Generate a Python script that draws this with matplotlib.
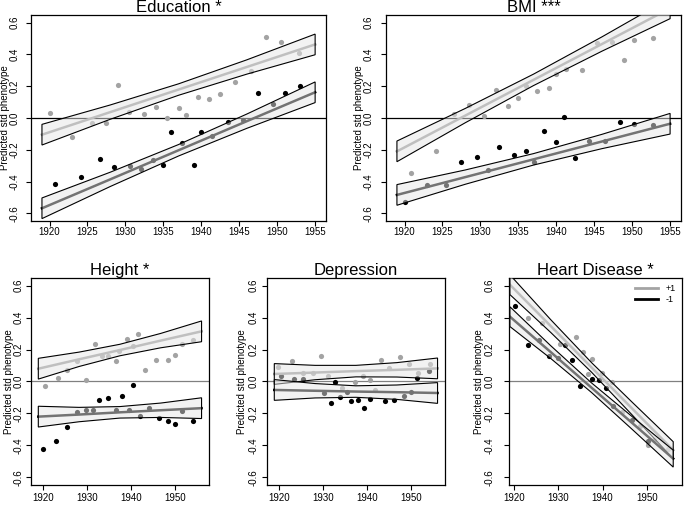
import numpy as np
import matplotlib
matplotlib.use('Agg')
import matplotlib.pyplot as plt
from matplotlib.lines import Line2D

plt.rcParams['font.family'] = ['Liberation Sans', 'DejaVu Sans']
plt.rcParams['axes.unicode_minus'] = False

# years where the fitted lines / bands were read
band_x_top = [1919, 1928, 1937, 1946, 1955]
band_x_bot = [1919, 1928.25, 1937.5, 1946.75, 1956]
half_w = [0.065, 0.045, 0.036, 0.045, 0.065]
half_w_hd = [0.062, 0.04, 0.03, 0.04, 0.053]

# Education
edu_pos_x = [1920.0, 1922.9, 1925.6, 1927.5, 1929.0, 1930.5, 1932.5, 1934.0, 1935.5, 1937.0,
             1938.0, 1939.5, 1941.0, 1942.5, 1944.5, 1946.5, 1948.5, 1950.5, 1952.9]
edu_pos_y = [0.03, -0.12, -0.03, -0.03, 0.21, 0.04, 0.025, 0.07, 0.0, 0.065,
             0.02, 0.13, 0.12, 0.15, 0.225, 0.295, 0.51, 0.48, 0.41]
edu_neg_x = [1920.7, 1924.2, 1926.6, 1928.5, 1930.6, 1932.0, 1933.6, 1935.0, 1936.0, 1937.5,
             1939.0, 1940.0, 1941.4, 1943.5, 1945.5, 1947.5, 1949.5, 1951.0, 1953.0]
edu_neg_y = [-0.415, -0.37, -0.26, -0.31, -0.30, -0.32, -0.265, -0.295, -0.09, -0.16,
             -0.295, -0.09, -0.112, -0.025, -0.015, 0.155, 0.088, 0.16, 0.2]
edu_fit_pos = [-0.105, 0.037, 0.179, 0.321, 0.463]
edu_fit_neg = [-0.568, -0.386, -0.203, -0.020, 0.162]

# BMI
bmi_pos_x = [1920.8, 1924.1, 1926.5, 1928.5, 1930.5, 1932.0, 1933.6, 1935.0, 1936.0, 1937.5,
             1939.0, 1940.0, 1941.3, 1943.4, 1945.4, 1947.4, 1948.9, 1950.3, 1952.8]
bmi_pos_y = [-0.347, -0.206, 0.025, 0.082, 0.015, 0.179, 0.078, 0.126, 0.2, 0.17,
             0.19, 0.277, 0.31, 0.3, 0.47, 0.48, 0.366, 0.49, 0.505]
bmi_neg_x = [1920.0, 1923.0, 1925.5, 1927.5, 1929.6, 1931.0, 1932.5, 1934.4, 1936.0, 1937.0,
             1938.4, 1940.0, 1941.0, 1942.5, 1944.3, 1946.4, 1948.4, 1950.2, 1952.8]
bmi_neg_y = [-0.53, -0.42, -0.42, -0.278, -0.243, -0.33, -0.18, -0.232, -0.206, -0.278,
             -0.08, -0.154, 0.006, -0.25, -0.147, -0.147, -0.025, -0.036, -0.042]
bmi_fit_pos = [-0.21, 0.015, 0.24, 0.465, 0.69]
bmi_fit_neg = [-0.484, -0.372, -0.26, -0.148, -0.036]

# Height
hgt_pos_x = [1920.5, 1923.5, 1925.6, 1927.7, 1929.8, 1931.9, 1933.4, 1934.9, 1936.5, 1937.3,
             1939.0, 1940.5, 1941.6, 1943.1, 1945.7, 1948.4, 1949.9, 1951.5, 1954.0]
hgt_pos_y = [-0.027, 0.02, 0.07, 0.127, 0.008, 0.233, 0.16, 0.16, 0.127, 0.19,
             0.263, 0.22, 0.296, 0.07, 0.137, 0.137, 0.167, 0.235, 0.26]
hgt_neg_x = [1920.0, 1922.9, 1925.6, 1927.7, 1929.7, 1931.3, 1932.8, 1934.9, 1936.5, 1938.0,
             1939.5, 1940.5, 1942.1, 1944.1, 1946.3, 1948.4, 1949.9, 1951.5, 1954.0]
hgt_neg_y = [-0.424, -0.37, -0.286, -0.19, -0.176, -0.176, -0.114, -0.102, -0.176, -0.092,
             -0.176, -0.022, -0.216, -0.163, -0.227, -0.25, -0.265, -0.186, -0.25]
hgt_fit_pos = [0.08, 0.139, 0.197, 0.256, 0.314]
hgt_fit_neg = [-0.22, -0.207, -0.193, -0.18, -0.167]

# Depression
dep_pos_x = [1919.9, 1922.9, 1925.4, 1927.7, 1929.6, 1931.1, 1934.4, 1937.4, 1939.0, 1940.6,
             1941.9, 1943.2, 1945.1, 1947.4, 1949.5, 1951.5, 1954.2]
dep_pos_y = [0.092, 0.129, 0.055, 0.051, 0.158, 0.035, -0.04, -0.004, 0.035, 0.01,
             -0.051, 0.133, 0.082, 0.154, 0.109, 0.051, 0.109]
dep_neg_x = [1920.5, 1923.4, 1925.4, 1930.2, 1931.9, 1932.8, 1933.9, 1935.4, 1936.4, 1937.9,
             1939.4, 1940.6, 1944.1, 1946.2, 1948.3, 1950.0, 1951.3, 1954.0]
dep_neg_y = [0.035, 0.016, 0.016, -0.072, -0.133, -0.006, -0.098, -0.066, -0.123, -0.113,
             -0.164, -0.107, -0.123, -0.113, -0.092, -0.066, 0.02, 0.068]
dep_fit_pos = [0.047, 0.056, 0.065, 0.073, 0.082]
dep_fit_neg = [-0.053, -0.058, -0.063, -0.067, -0.072]

# Heart Disease
hd_pos_x = [1923.2, 1926.3, 1930.4, 1933.9, 1935.6, 1936.6, 1937.7, 1939.8, 1942.2, 1944.3,
            1948.5, 1950.2, 1951.7, 1954.9]
hd_pos_y = [0.40, 0.369, 0.235, 0.276, 0.183, 0.045, 0.138, 0.056, -0.006, -0.188,
            -0.278, -0.398, -0.367, -0.42]
hd_neg_x = [1920.2, 1923.2, 1925.6, 1927.9, 1930.0, 1931.5, 1933.0, 1934.9, 1937.5, 1939.2,
            1940.8, 1942.4, 1946.6, 1950.2]
hd_neg_y = [0.474, 0.226, 0.257, 0.158, 0.148, 0.226, 0.132, -0.027, 0.015, 0.01,
            -0.043, -0.151, -0.244, -0.371]
hd_fit_pos = [0.606, 0.347, 0.088, -0.171, -0.43]
hd_fit_neg = [0.406, 0.184, -0.039, -0.261, -0.483]

grey_pt = '#a3a3a3'
band_fc = (0.9, 0.9, 0.9, 0.5)

fig = plt.figure(figsize=(6.85, 5.07), dpi=100)

top_ticks = [1920, 1925, 1930, 1935, 1940, 1945, 1950, 1955]
bot_ticks = [1920, 1930, 1940, 1950]

# title, rect, xlim, band x, half widths, data..., zero-line colour, x ticks,
# y tick pad (pt), y label centre offset (px), x tick pad (pt)
panels = [
    ('Education *', [0.0453, 0.5641, 0.4307, 0.4063], (1917.56, 1956.44), band_x_top, half_w,
     edu_pos_x, edu_pos_y, edu_neg_x, edu_neg_y, edu_fit_pos, edu_fit_neg, 'black',
     top_ticks, 4.5, 26, 1),
    ('BMI ***', [0.5635, 0.5641, 0.4307, 0.4063], (1917.56, 1956.44), band_x_top, half_w,
     bmi_pos_x, bmi_pos_y, bmi_neg_x, bmi_neg_y, bmi_fit_pos, bmi_fit_neg, 'black',
     top_ticks, 5, 26.5, 1),
    ('Height *', [0.0453, 0.0434, 0.2599, 0.4083], (1917.35, 1957.7), band_x_bot, half_w,
     hgt_pos_x, hgt_pos_y, hgt_neg_x, hgt_neg_y, hgt_fit_pos, hgt_fit_neg, '#808080',
     bot_ticks, 1.8, 22, 2.5),
    ('Depression', [0.3898, 0.0434, 0.2599, 0.4083], (1917.35, 1957.7), band_x_bot, half_w,
     dep_pos_x, dep_pos_y, dep_neg_x, dep_neg_y, dep_fit_pos, dep_fit_neg, '#808080',
     bot_ticks, 2.5, 25, 2.5),
    ('Heart Disease *', [0.7431, 0.0434, 0.2526, 0.4083], (1918.8, 1958.0), band_x_bot, half_w_hd,
     hd_pos_x, hd_pos_y, hd_neg_x, hd_neg_y, hd_fit_pos, hd_fit_neg, '#808080',
     bot_ticks, 6.5, 30.5, 2.5),
]

for (title, rect, xlim, bx, hw, px, py, nx, ny, fp, fn, zcol, xt, ypad, lab_off, xpad) in panels:
    ax = fig.add_axes(rect)
    ax.axhline(0, color=zcol, lw=0.9, zorder=1)
    ax.scatter(px, py, s=14, color=grey_pt, zorder=2, linewidths=0)
    ax.scatter(nx, ny, s=14, color='black', zorder=2, linewidths=0)
    ax.plot(bx, fp, color='#999999', lw=1.8, zorder=2.5)
    ax.plot(bx, fn, color='black', lw=1.8, zorder=2.5)
    bx_arr = np.array(bx)
    for fit in (fp, fn):
        lo = np.array(fit) - np.array(hw)
        hi = np.array(fit) + np.array(hw)
        xs = np.concatenate([bx_arr, bx_arr[::-1]])
        ys = np.concatenate([hi, lo[::-1]])
        ax.fill(xs, ys, facecolor=band_fc, edgecolor='black', lw=0.8, zorder=3)
    ax.set_xlim(*xlim)
    ax.set_ylim(-0.648, 0.648)
    ax.set_xticks(xt)
    ax.set_yticks([-0.6, -0.4, -0.2, 0.0, 0.2, 0.4, 0.6])
    ax.set_yticklabels(['-0.6', '-0.4', '-0.2', '0.0', '0.2', '0.4', '0.6'])
    ax.tick_params(axis='both', direction='out', length=3.6, width=0.8, labelsize=7)
    ax.tick_params(axis='x', pad=xpad)
    ax.tick_params(axis='y', pad=ypad, labelrotation=90)
    for lab in ax.get_yticklabels():
        lab.set_va('center')
    for sp in ax.spines.values():
        sp.set_linewidth(0.9)
    ax.set_ylabel('Predicted std phenotype', fontsize=7)
    ax_w_px = rect[2] * 685
    ax.yaxis.set_label_coords(-lab_off / ax_w_px, 0.5)
    ax.yaxis.label.set_va('center')
    ax.set_title(title, fontsize=12, pad=1)
    if title.startswith('Heart'):
        handles = [Line2D([], [], color='#a3a3a3', lw=2), Line2D([], [], color='black', lw=2)]
        ax.legend(handles, ['+1', '-1'], loc='upper right', frameon=False, fontsize=6.5,
                  handlelength=2.6, borderaxespad=0.3, labelspacing=0.2)

fig.savefig('out.png', dpi=100)
